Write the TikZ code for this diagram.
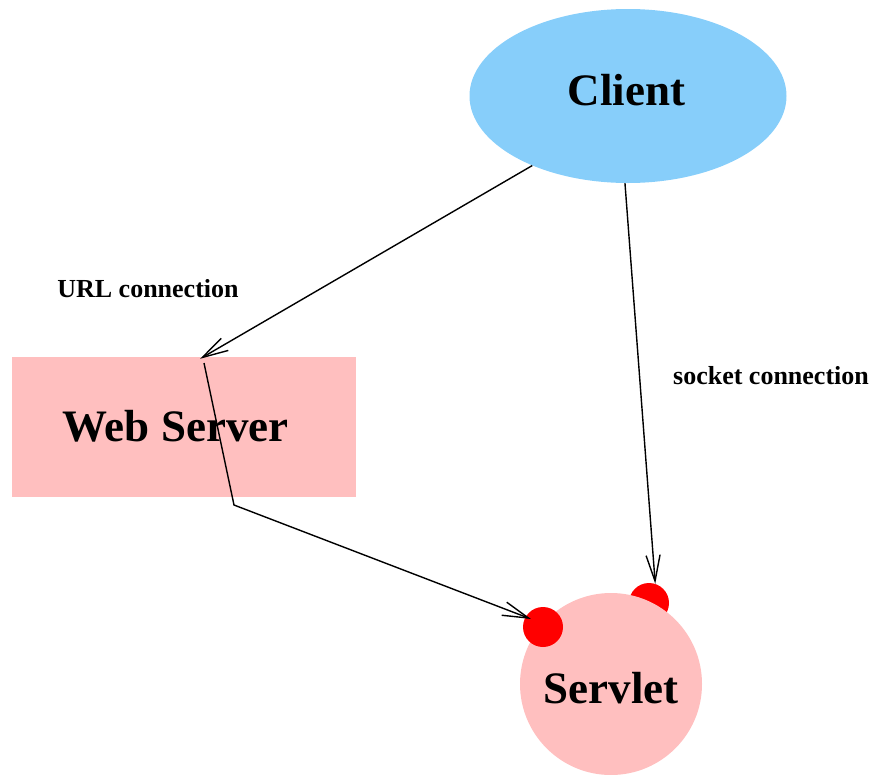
\documentclass[tikz,border=0pt]{standalone}
\usepackage{fontspec}
\setmainfont{Liberation Serif}
\usetikzlibrary{shapes.geometric,arrows.meta,calc}
\definecolor{clientblue}{RGB}{135,206,250}
\definecolor{boxpink}{RGB}{255,191,191}
\begin{document}
\begin{tikzpicture}[x=1pt,y=-1pt,
  bigtext/.style={font=\fontsize{45}{54}\selectfont\bfseries, inner sep=0pt, anchor=base},
  smalltext/.style={font=\fontsize{26}{31}\selectfont\bfseries, inner sep=0pt, anchor=base},
  dot/.style={circle, fill=red, draw=none, minimum size=40pt, inner sep=0pt},
  conn/.style={line width=1.4pt, line join=miter, -{Straight Barb[length=26pt,width=14pt,line width=1.4pt]}}]
\useasboundingbox (0,0) rectangle (873,774);
\clip (0,0) rectangle (873,774);

% Web server box and client ellipse
\node[fill=boxpink, draw=none, minimum width=344pt, minimum height=140pt, inner sep=0pt] (web) at (184,427) {};
\node[ellipse, fill=clientblue, draw=none, minimum width=317pt, minimum height=174pt, inner sep=0pt] (client) at (628,96) {};

% Servlet with its two connection points
\node[dot] (s2) at (649,603) {};
\node[circle, fill=boxpink, draw=none, minimum size=182pt, inner sep=0pt] (servlet) at (611,684) {};
\node[dot] (s1) at (543,627) {};

% Labels
\node[bigtext] (clienttext) at (626.5,105) {Client};
\node[bigtext] (webtext) at (175.5,441) {Web Server};
\node[bigtext] (servlettext) at (611,703) {Servlet};
\node[smalltext] (urltext) at (148,297) {URL connection};
\node[smalltext] (sockettext) at (771,384) {socket connection};

% Connections
\coordinate (webin) at (204,363);
\coordinate (bend) at (234,505);
\draw[conn] (client.216) -- ([xshift=16pt,yshift=-2pt]web.north);
\draw[conn] (client.268) -- (s2.72);
\draw[conn] (webin) -- (bend) -- ($(s1.center)+(-12,-8)$);
\end{tikzpicture}
\end{document}
